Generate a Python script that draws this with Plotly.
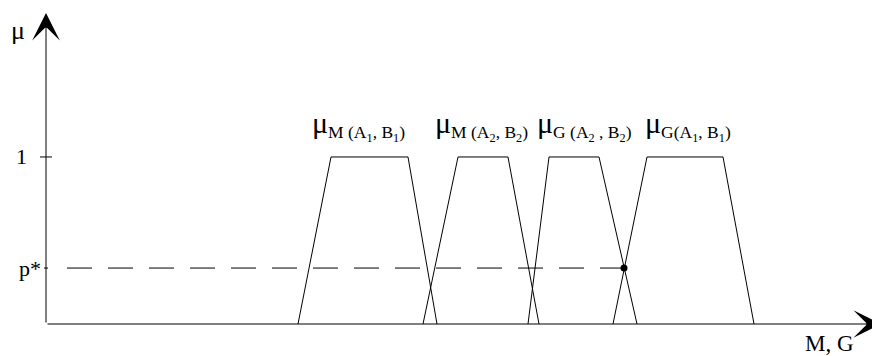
import plotly.graph_objects as go

# trapezoid membership functions: (base left, top left, top right, base right)
names = ["M (A1, B1)", "M (A2, B2)", "G (A2 , B2)", "G(A1, B1)"]
label_texts = [
    "M (A<sub>1</sub>, B<sub>1</sub>)",
    "M (A<sub>2</sub>, B<sub>2</sub>)",
    "G (A<sub>2</sub> , B<sub>2</sub>)",
    "G(A<sub>1</sub>, B<sub>1</sub>)",
]
left_base = [25.2, 37.7, 48.2, 56.7]
left_top = [28.5, 41.2, 50.3, 60.1]
right_top = [36.2, 46.2, 55.3, 67.7]
right_base = [39.1, 49.3, 59.1, 70.8]
mu_shape = [0, 1, 1, 0]

p_star = 0.335
p_star_x = 57.8

FONT = "Liberation Serif"

fig = go.Figure()

for i in range(len(names)):
    fig.add_trace(go.Scatter(
        x=[left_base[i], left_top[i], right_top[i], right_base[i]],
        y=mu_shape,
        mode="lines",
        line=dict(color="black", width=1),
        name=names[i],
        hoverinfo="name",
    ))

# dashed level p*
fig.add_trace(go.Scatter(
    x=[2.1, p_star_x],
    y=[p_star, p_star],
    mode="lines",
    line=dict(color="black", width=1, dash="25px,16px"),
    hoverinfo="skip",
))
fig.add_trace(go.Scatter(
    x=[p_star_x],
    y=[p_star],
    mode="markers",
    marker=dict(color="black", size=7),
    hoverinfo="skip",
))

# tick marks on the mu axis
fig.add_trace(go.Scatter(
    x=[-0.6, 0.6, None, -0.2, 0.2],
    y=[1, 1, None, p_star, p_star],
    mode="lines",
    line=dict(color="black", width=1),
    hoverinfo="skip",
))

annotations = []
# axes with arrow heads
for tip, tail in [((0, 1.862), (0, 0)), ((83.5, 0), (0, 0))]:
    annotations.append(dict(
        x=tip[0], y=tip[1], ax=tail[0], ay=tail[1],
        xref="x", yref="y", axref="x", ayref="y",
        text="", showarrow=True,
        arrowhead=3, arrowsize=4.6, arrowwidth=1, arrowcolor="black",
    ))

label_x = [26.4, 38.7, 48.9, 59.7]
for i in range(len(names)):
    annotations.append(dict(
        x=label_x[i], y=1.19, xref="x", yref="y",
        xanchor="left", yanchor="middle", showarrow=False,
        text="<span style='font-size:30px'>μ</span><sub>" + label_texts[i] + "</sub>",
        font=dict(family=FONT, size=25, color="black"),
    ))

for txt, x, y, size in [("μ", -2.8, 1.76, 26), ("1", -2.5, 1.0, 22),
                        ("p*", -1.6, p_star, 22), ("M, G", 78.3, -0.114, 23)]:
    annotations.append(dict(
        x=x, y=y, xref="x", yref="y", showarrow=False,
        text=txt, font=dict(family=FONT, size=size, color="black"),
    ))

# the page body has an 8px margin, so the ranges start 8px into the window
fig.update_layout(
    width=880,
    height=356,
    margin=dict(l=0, r=0, t=0, b=0),
    plot_bgcolor="white",
    paper_bgcolor="white",
    showlegend=False,
    xaxis=dict(range=[-3.8, 84.2], visible=False),
    yaxis=dict(range=[-0.2395, 1.892], visible=False),
    annotations=annotations,
)

fig.write_html("out.html")
